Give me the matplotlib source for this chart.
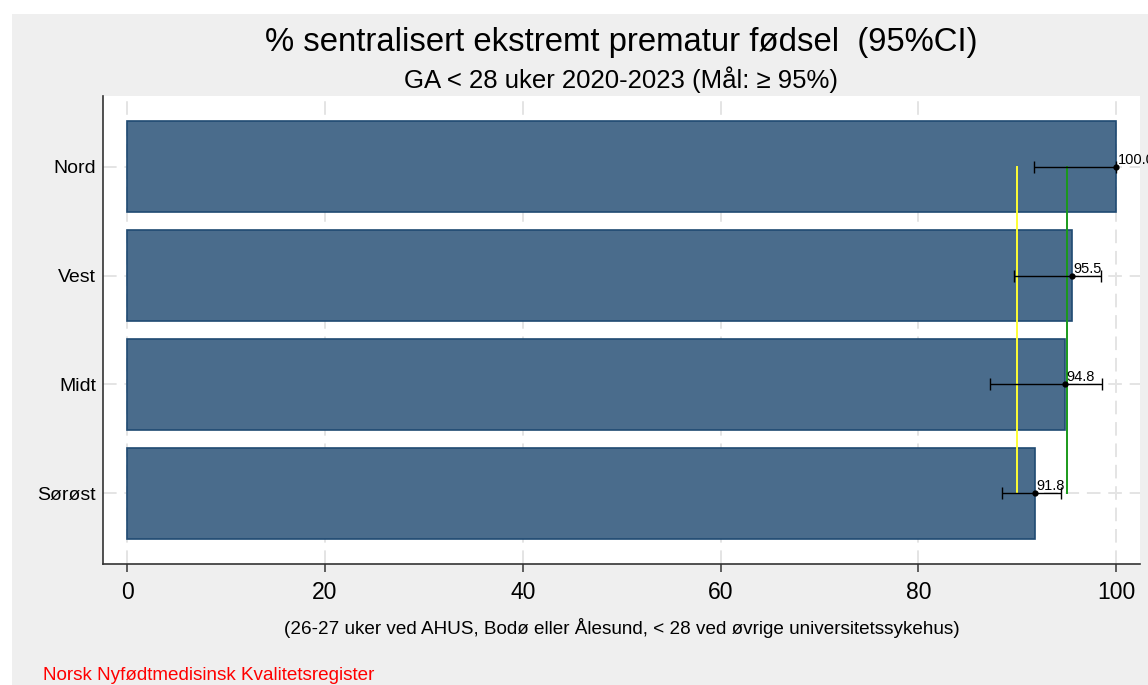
import matplotlib
matplotlib.use("Agg")
import matplotlib.pyplot as plt
from matplotlib.patches import Rectangle

plt.rcParams["font.family"] = ["Liberation Sans", "DejaVu Sans"]

# Andel sentralisert fødsel per region, med 95% KI
regions = ["Sørøst", "Midt", "Vest", "Nord"]
pct = [91.8, 94.8, 95.5, 100.0]
ci_low = [88.5, 87.2, 89.7, 91.7]
ci_high = [94.4, 98.6, 98.5, 100.0]
xticks = [0, 20, 40, 60, 80, 100]
low_target = 90
goal = 95

BAR_FILL = "#4a6c8c"
BAR_EDGE = "#1f4a72"
BG = "#efefef"

fig = plt.figure(figsize=(11.48, 6.85), dpi=100)
fig.patch.set_facecolor("white")
W, H = 1148, 685
# grey page background, leaving a thin white margin top/left
fig.patches.append(Rectangle((12 / W, 0), 1 - 12 / W, 1 - 14 / H,
                             transform=fig.transFigure, facecolor=BG,
                             edgecolor="none", zorder=-10))

ax = fig.add_axes([103 / W, 1 - 564 / H, (1140 - 103) / W, (564 - 96) / H])
ax.set_facecolor("white")

ypos = list(range(len(regions)))
ax.barh(ypos, pct, height=0.84, color=BAR_FILL, edgecolor=BAR_EDGE,
        linewidth=1.2, zorder=2)

xerr = [[p - lo for p, lo in zip(pct, ci_low)],
        [hi - p for p, hi in zip(pct, ci_high)]]
ax.errorbar(pct, ypos, xerr=xerr, fmt="o", color="black", markersize=3.5,
            ecolor="black", elinewidth=1.0, capsize=4, capthick=1.0, zorder=5)

# referanselinjer (lavt og høyt måloppnåelsesnivå)
ax.plot([low_target, low_target], [ypos[0], ypos[-1]], color="#ffff33",
        lw=1.4, zorder=4)
ax.plot([goal, goal], [ypos[0], ypos[-1]], color="#1a9a1a", lw=1.4, zorder=4)

for p, y in zip(pct, ypos):
    ax.annotate(f"{p:.1f}", (p, y), xytext=(1, 0), textcoords="offset points",
                fontsize=10.5, ha="left", va="bottom", zorder=6,
                annotation_clip=False)

ax.set_xlim(-2.43, 102.4)
ax.set_ylim(-0.65, len(regions) - 1 + 0.65)
ax.set_xticks(xticks)
ax.set_xticklabels([str(t) for t in xticks], fontsize=16.5)
ax.set_yticks(ypos)
ax.set_yticklabels(regions, fontsize=14)
ax.tick_params(axis="x", direction="out", length=6, width=1.2,
               color="#444444", pad=6)
ax.tick_params(axis="y", length=0, pad=5)

ax.grid(True, axis="both", color="#e4e4e4", linestyle=(0, (7, 4)),
        linewidth=1.4, zorder=0)
ax.set_axisbelow(True)

for side in ("top", "right"):
    ax.spines[side].set_visible(False)
for side in ("left", "bottom"):
    ax.spines[side].set_color("#333333")
    ax.spines[side].set_linewidth(1.2)

ax.set_xlabel("(26-27 uker ved AHUS, Bodø eller Ålesund, < 28 ved øvrige "
              "universitetssykehus)", fontsize=13.6, labelpad=10)

cx = (103 + 1140) / 2 / W
fig.text(cx, 1 - 42 / H, "% sentralisert ekstremt prematur fødsel  (95%CI)",
         ha="center", va="center", fontsize=23.7)
fig.text(cx, 1 - 80 / H, "GA < 28 uker 2020-2023 (Mål: ≥ 95%)",
         ha="center", va="center", fontsize=18.5)
fig.text(43 / W, 1 - 676 / H, "Norsk Nyfødtmedisinsk Kvalitetsregister",
         ha="left", va="center", fontsize=13.6, color="red")

fig.savefig("out.png", dpi=100, facecolor=fig.get_facecolor())
